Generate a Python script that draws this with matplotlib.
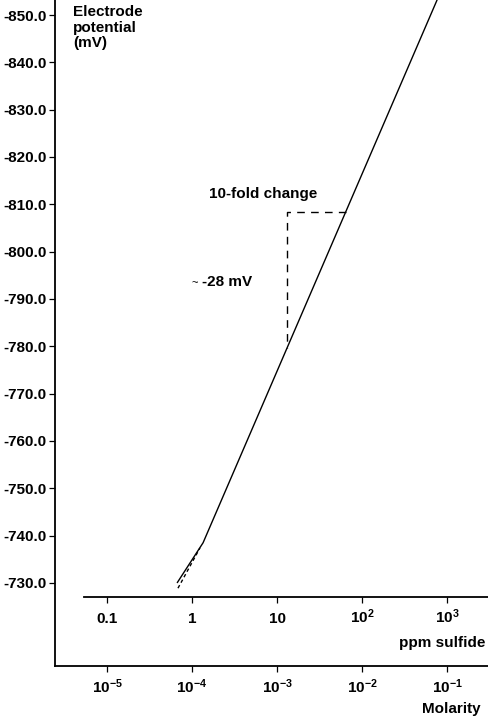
import numpy as np
import matplotlib
matplotlib.use('Agg')
import matplotlib.pyplot as plt

# narrow bold sans (Liberation Sans Narrow is not there, so Liberation Sans)
FONT = ['Liberation Sans', 'DejaVu Sans']
plt.rcParams['font.family'] = FONT
plt.rcParams['font.weight'] = 'bold'
plt.rcParams['mathtext.fontset'] = 'custom'
plt.rcParams['mathtext.rm'] = 'Liberation Sans:bold'
plt.rcParams['mathtext.it'] = 'Liberation Sans:bold'
plt.rcParams['mathtext.bf'] = 'Liberation Sans:bold'

# data
ppm_line = [0.667, 1.35, 765.0]
mv_line = [-730.0, -738.5, -853.2]

ppm_dash = [0.684, 1.24]
mv_dash = [-728.9, -737.4]

# 10-fold change triangle
ppm_tri = [65.0, 13.1, 13.1]
mv_tri = [-808.4, -808.4, -779.7]

y_ticks = [-850, -840, -830, -820, -810, -800, -790, -780, -770, -760, -750, -740, -730]
ppm_ticks = [0.1, 1, 10, 100, 1000]
ppm_labels = ['0.1', '1', '10', r'$10^2$', r'$10^3$']
mol_labels = [r'$10^{-5}$', r'$10^{-4}$', r'$10^{-3}$', r'$10^{-2}$', r'$10^{-1}$']

W, H = 489, 720
fig = plt.figure(figsize=(W / 100, H / 100), dpi=100)

# main axes (left spine + molarity axis at the bottom)
ax = fig.add_axes([55 / W, 54 / H, 434 / W, 666 / H])
ax.set_xscale('log')
ax.set_xlim(10 ** -1.6118, 10 ** 3.494)
ax.set_ylim(-712.46, -853.17)

ax.plot(ppm_line, mv_line, color='black', lw=1.0, solid_capstyle='butt')
ax.plot(ppm_dash, mv_dash, color='black', lw=1.0, linestyle=(0, (2.5, 2.0)))
ax.plot(ppm_tri, mv_tri, color='black', lw=1.0, linestyle=(0, (5.5, 4.5)))

for s in ['top', 'right']:
    ax.spines[s].set_visible(False)
for s in ['left', 'bottom']:
    ax.spines[s].set_linewidth(1.3)

ax.set_yticks(y_ticks)
ax.set_yticklabels(['%.1f' % v for v in y_ticks])
ax.set_xticks(ppm_ticks)
ax.set_xticklabels(mol_labels)
ax.xaxis.set_minor_locator(matplotlib.ticker.NullLocator())
ax.tick_params(axis='y', direction='out', length=4, width=0.9, pad=2, labelsize=11)
ax.tick_params(axis='x', direction='out', length=4, width=0.9, pad=15.4, labelsize=11)
for lab in ax.get_xticklabels():
    lab.set_va('baseline')

# ppm sulfide axis, drawn as a second axes
ax2 = fig.add_axes([84 / W, (H - 597) / H, 405 / W, 0.01])
ax2.set_xscale('log')
ax2.set_xlim(10 ** -1.2706, 10 ** 3.494)
ax2.patch.set_visible(False)
for s in ['top', 'right', 'left']:
    ax2.spines[s].set_visible(False)
ax2.spines['bottom'].set_linewidth(1.3)
ax2.set_yticks([])
ax2.set_xticks(ppm_ticks)
ax2.set_xticklabels(ppm_labels)
ax2.xaxis.set_minor_locator(matplotlib.ticker.NullLocator())
ax2.tick_params(axis='x', direction='out', length=4, width=0.9, pad=14.7, labelsize=11)
for lab in ax2.get_xticklabels():
    lab.set_va('baseline')

# texts
fig.text(73 / W, 1 - 5 / H, 'Electrode\npotential\n(mV)', ha='left', va='top',
         fontsize=11, linespacing=1.15)
fig.text(209 / W, 1 - 194 / H, '10-fold change', ha='left', va='center', fontsize=11)
fig.text(192 / W, 1 - 283 / H, '~', ha='left', va='center', fontsize=8, fontweight='normal')
fig.text(202 / W, 1 - 282 / H, '-28 mV', ha='left', va='center', fontsize=11)
fig.text(485 / W, 1 - 643 / H, 'ppm sulfide', ha='right', va='center', fontsize=11)
fig.text(481 / W, 1 - 709 / H, 'Molarity', ha='right', va='center', fontsize=11)

fig.savefig('out.png', dpi=100)
